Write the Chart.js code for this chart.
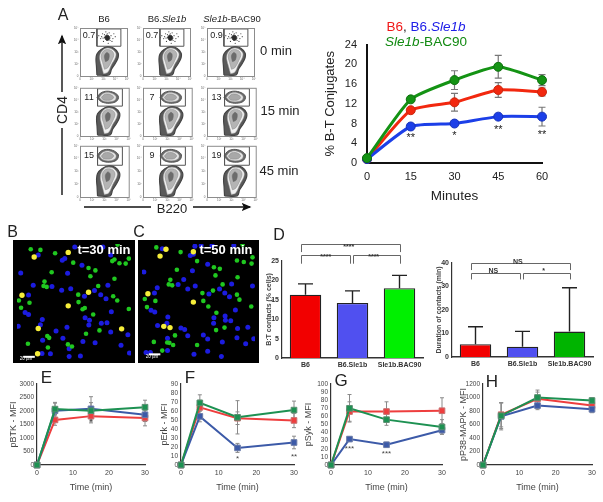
<!DOCTYPE html>
<html>
<head>
<meta charset="utf-8">
<script src="https://cdn.jsdelivr.net/npm/chart.js@4/dist/chart.umd.min.js"></script>
<style>
  html, body { margin:0; padding:0; background:#fff; overflow:hidden; }
  #page { position:relative; width:603px; height:502px; font-family:"Liberation Sans", Arial, sans-serif; }
  canvas { position:absolute; }
  .t { position:absolute; transform:translate(-50%,-50%); white-space:nowrap; color:#222; }
  svg { position:absolute; left:0; top:0; }
</style>
</head>
<body>
<div id="page">
  <svg width="603" height="502">
    <defs><marker id="arr" markerWidth="8" markerHeight="8" refX="6" refY="3" orient="auto"><path d="M0,0 L7,3 L0,6 L1.5,3 z" fill="#111"/></marker></defs>
    <line x1="62" y1="195" x2="62" y2="128" stroke="#111" stroke-width="1.4"/>
    <line x1="62" y1="92" x2="62" y2="36" stroke="#111" stroke-width="1.4" marker-end="url(#arr)"/>
    <line x1="84" y1="207" x2="151" y2="207" stroke="#111" stroke-width="1.4"/>
    <line x1="193" y1="207" x2="250" y2="207" stroke="#111" stroke-width="1.4" marker-end="url(#arr)"/>
  </svg>
</div>
<script>
/* ---------- data ---------- */
const conjTimes = [0, 15, 30, 45, 60];
const conjRed = [0.8, 10.7, 12.3, 14.8, 14.4];
const conjBlue = [0.8, 7.4, 8, 9.4, 9.4];
const conjGreen = [1, 12.9, 16.8, 19.5, 16.8];
const conjRedErr = [0, 0.4, 1.8, 1.5, 0.8];
const conjBlueErr = [0, 0.3, 0.3, 0.4, 1.9];
const conjGreenErr = [0, 0.4, 1.9, 2.3, 1.1];
const conjStars = [[15, 5, "**"], [30, 5.4, "*"], [45, 6.6, "**"], [60, 5.6, "**"]];

const barLabels = ["B6", "B6.Sle1b", "Sle1b.BAC90"];
const contactValues = [16.3, 14.2, 18];
const contactErr = [2.8, 3.1, 3.3];
const durationValues = [5.4, 4.4, 10.8];
const durationErr = [7.5, 6.5, 18.7];
const contactBrackets = [[-0.1, 2, 27.3, 29.5], [-0.1, 0.95, 24.3, 26.5], [1.0, 2, 24.3, 26.5]];
const contactStars = [[0.92, 28.7, "****"], [0.43, 25.9, "****"], [1.45, 26, "****"]];
const durationBrackets = [[-0.1, 2, 37, 39.8], [-0.1, 0.95, 33, 35.8], [1.0, 2, 33, 35.8]];
const durationStars = [[0.9, 40.6, "NS"], [0.38, 36.5, "NS"], [1.45, 36.6, "*"]];

const timeTicks = [0, 5, 15, 30];
const btkRed = [0, 1670, 1810, 1740], btkBlue = [0, 2010, 2080, 1860], btkGreen = [0, 2070, 2010, 2140];
const btkRedErr = [0, 200, 250, 290], btkBlueErr = [0, 280, 450, 250], btkGreenErr = [0, 250, 300, 260];
const btkStars = [[15, 1590, "*"]];
const erkRed = [0, 64, 52, 49.5], erkBlue = [0, 54, 19, 25], erkGreen = [0, 69, 53, 61];
const erkRedErr = [0, 8, 7, 8], erkBlueErr = [0, 6, 5, 7], erkGreenErr = [0, 9, 18.5, 10];
const erkStars = [[15, 7, "*"], [30, 9, "**"]];
const sykRed = [0, 66, 66, 67], sykBlue = [0, 32, 25, 43], sykGreen = [0, 70, 56, 47];
const sykRedErr = [0, 12, 12, 16], sykBlueErr = [0, 3, 3, 5], sykGreenErr = [0, 17, 7, 9];
const sykStars = [[5, 20, "***"], [15, 14, "***"]];
const p38Red = [0, 745, 980, 880], p38Blue = [0, 720, 880, 825], p38Green = [0, 730, 1000, 955];
const p38RedErr = [0, 180, 100, 60], p38BlueErr = [0, 200, 60, 50], p38GreenErr = [0, 190, 110, 40];

// flow plots, both axes 0-100
const flowPercents = [["0.7", "0.7", "0.9"], ["11", "7", "13"], ["15", "9", "19"]];
const flowTickLabels = ["0", "10²", "10³", "10⁴", "10⁵"];
const gateBox = [[36,62],[87,62],[87,98],[36,98],[36,62]];
const lowerOuter = [[36,2],[35,20],[34,35],[36,46],[45,55],[58,61],[72,58],[81,48],[81,38],[75,26],[67,14],[62,2],[36,2]];
const lowerWhite = [[50,5],[46,20],[42,36],[44,48],[53,57],[66,57],[76,48],[75,38],[67,24],[59,8],[50,5]];
const lowerMid = [[52,14],[48,28],[45,40],[48,50],[56,55],[67,53],[72,45],[68,33],[59,17],[52,14]];
const lowerCore = [[54,30],[52,42],[57,49],[62,45],[60,33],[54,30]];
const upperOuter = [[35,80],[42,89],[55,93],[70,90],[79,82],[75,72],[60,68],[44,71],[35,80]];
const upperWhite = [[40,80],[46,87],[56,90],[68,87],[74,81],[71,74],[59,71],[47,73],[40,80]];
const upperMid = [[44,80],[50,86],[58,87],[66,84],[69,80],[64,75],[56,74],[48,75],[44,80]];
const restCore = [[52,80],[56,85],[62,83],[63,77],[57,74],[52,80]];
const restDots = [[40,84],[44,78],[48,88],[50,72],[55,92],[62,90],[66,84],[70,78],[68,72],[46,82],[60,68],[75,82],[37,80],[52,86],[64,74],[58,88],[49,79],[72,88]];

// microscopy spots
const spots30Green = [[84,152],[115,154],[162,165],[220,195],[151,226],[269,212],[291,220],[275,239],[352,247],[128,256],[125,270],[135,273],[300,270],[236,298],[348,303],[361,317],[46,317],[80,324],[53,340],[237,322],[250,345],[257,341],[398,344],[284,362],[304,413],[137,431],[143,437],[75,456],[139,468],[203,458],[216,465],[261,424],[345,190],[352,185],[368,197],[388,198],[398,182],[362,137]];
const spots30Blue = [[108,170],[185,187],[193,182],[52,228],[202,229],[248,203],[92,268],[152,272],[183,284],[212,279],[331,268],[288,285],[256,303],[308,298],[77,299],[325,311],[66,355],[77,362],[342,353],[121,378],[258,372],[272,380],[310,390],[328,388],[270,396],[115,395],[44,400],[165,415],[200,403],[340,418],[395,427],[187,438],[122,445],[251,449],[290,453],[373,461],[400,486],[120,487],[207,472],[207,497],[243,495],[147,488],[340,170],[315,145],[225,145]];
const spots30Yellow = [[204,162],[95,177],[56,300],[269,290],[204,334],[108,407],[375,408],[106,488]];
const spots50Green = [[461,146],[539,161],[592,190],[527,218],[646,210],[665,215],[651,236],[722,242],[506,250],[501,265],[512,268],[674,265],[609,293],[720,298],[728,314],[643,285],[424,312],[458,318],[431,338],[612,318],[628,336],[766,336],[654,356],[680,404],[521,429],[496,452],[503,453],[453,450],[515,460],[592,460],[653,412],[720,188],[742,193],[767,198],[770,178],[738,137],[480,478]];
const spots50Blue = [[480,150],[570,172],[580,168],[421,225],[549,249],[577,221],[626,200],[464,276],[531,265],[562,280],[586,270],[703,264],[664,280],[630,296],[681,293],[696,305],[455,293],[444,348],[456,354],[715,347],[498,370],[646,372],[682,367],[683,380],[700,382],[645,390],[495,390],[465,397],[540,405],[552,410],[722,407],[755,403],[562,430],[626,441],[497,438],[612,428],[673,450],[720,437],[748,456],[428,484],[442,484],[497,478],[626,480],[582,490],[670,497],[774,440],[585,142],[605,140],[640,140],[710,140],[770,270]];
const spots50Yellow = [[492,152],[473,174],[580,160],[434,295],[580,322],[485,400],[505,404]];
const scaleBar30 = [[60,498],[97,498]];
const scaleBar50 = [[437,490],[474,490]];

/* ---------- helpers ---------- */
const page = document.getElementById("page");
const fontName = '"Liberation Sans", Arial, sans-serif';
const pairs = (xs, ys) => xs.map((x, i) => ({x: x, y: ys[i]}));
const xy = list => list.map(p => ({x: p[0], y: p[1]}));

function label(html, x, y, style) {
  const d = document.createElement("div");
  d.className = "t";
  d.innerHTML = html;
  d.style.cssText = "left:" + x + "px;top:" + y + "px;" + (style || "");
  page.appendChild(d);
  return d;
}

// canvas placed so that the plot area lands on rect [left, top, right, bottom]
function placed(rect, m) {
  const c = document.createElement("canvas");
  c.width = rect[2] - rect[0] + m.l + m.r;
  c.height = rect[3] - rect[1] + m.t + m.b;
  c.style.left = (rect[0] - m.l) + "px";
  c.style.top = (rect[1] - m.t) + "px";
  page.appendChild(c);
  return c;
}

const errorBars = {
  id: "errorBars",
  beforeDatasetsDraw(chart) {
    const ctx = chart.ctx;
    chart.data.datasets.forEach((ds, i) => {
      if (!ds.err) return;
      const meta = chart.getDatasetMeta(i);
      const sy = chart.scales.y;
      ctx.save();
      ctx.strokeStyle = ds.errColor || "#777";
      ctx.lineWidth = ds.errWidth || 1;
      meta.data.forEach((el, k) => {
        if (!ds.err[k]) return;
        const raw = ds.data[k];
        const val = typeof raw === "number" ? raw : raw.y;
        const hi = sy.getPixelForValue(val + ds.err[k]);
        const lo = ds.errUpOnly ? sy.getPixelForValue(val) : sy.getPixelForValue(val - ds.err[k]);
        const cap = ds.errCap || 2;
        ctx.beginPath();
        ctx.moveTo(el.x, lo); ctx.lineTo(el.x, hi);
        ctx.moveTo(el.x - cap, hi); ctx.lineTo(el.x + cap, hi);
        if (!ds.errUpOnly) { ctx.moveTo(el.x - cap, lo); ctx.lineTo(el.x + cap, lo); }
        ctx.stroke();
      });
      ctx.restore();
    });
  }
};

// stars / NS text and significance brackets, placed through the scales
function notes(stars, brackets, font, color) {
  return {
    id: "notes",
    afterDatasetsDraw(chart) {
      const ctx = chart.ctx, sx = chart.scales.x, sy = chart.scales.y;
      ctx.save();
      ctx.fillStyle = color; ctx.strokeStyle = "#666"; ctx.lineWidth = 1;
      ctx.font = font; ctx.textAlign = "center"; ctx.textBaseline = "middle";
      (brackets || []).forEach(b => {
        const x1 = Math.round(sx.getPixelForValue(b[0])) + 0.5, x2 = Math.round(sx.getPixelForValue(b[1])) + 0.5;
        const lo = sy.getPixelForValue(b[2]), hi = Math.round(sy.getPixelForValue(b[3])) + 0.5;
        ctx.beginPath();
        ctx.moveTo(x1, lo); ctx.lineTo(x1, hi); ctx.lineTo(x2, hi); ctx.lineTo(x2, lo);
        ctx.stroke();
      });
      (stars || []).forEach(s => ctx.fillText(s[2], sx.getPixelForValue(s[0]), sy.getPixelForValue(s[1])));
      ctx.restore();
    }
  };
}

const fixedW = w => s => { s.width = w; };
const fixedH = h => s => { s.height = h; };
const base = { responsive:false, animation:false, plugins:{ legend:{display:false}, tooltip:{enabled:false} }, events:[] };

/* ---------- A: conjugates ---------- */
function conjSet(vals, errs, col, edge, order) {
  return { data:pairs(conjTimes, vals), err:errs, errColor:"#777", errWidth:1.2, errCap:3.5, order:order,
    borderColor:col, backgroundColor:col, pointBorderColor:edge, pointBorderWidth:1,
    borderWidth:3, pointRadius:4.5, tension:0.18, showLine:true, clip:false };
}
{
  const m = {l:44, r:14, t:6, b:41};
  new Chart(placed([366.7, 37.7, 541.7, 163.3], m), {
    type:"scatter",
    data:{ datasets:[
      conjSet(conjGreen, conjGreenErr, "#149314", "#0e6f0e", 1),
      conjSet(conjBlue, conjBlueErr, "#1c3fe8", "#1530b8", 2),
      conjSet(conjRed, conjRedErr, "#f2280f", "#c9280f", 3)
    ]},
    options:{ ...base, layout:{padding:{top:m.t, right:m.r}},
      scales:{
        x:{ type:"linear", min:0, max:60, afterFit:fixedH(m.b), grid:{display:false, tickColor:"#111", tickLength:4, tickWidth:1.5},
            border:{color:"#111", width:2}, afterBuildTicks:s => { s.ticks = conjTimes.map(v => ({value:v})); },
            ticks:{color:"#222", font:{family:fontName, size:11}, padding:3, maxRotation:0},
            title:{display:true, text:"Minutes", color:"#222", font:{family:fontName, size:13.5}, padding:0} },
        y:{ min:0, max:24, afterFit:fixedW(m.l), grid:{display:false, tickColor:"#111", tickLength:4, tickWidth:1.5},
            border:{color:"#111", width:2},
            ticks:{stepSize:4, color:"#222", font:{family:fontName, size:11}, padding:6},
            title:{display:true, text:"% B-T Conjugates", color:"#222", font:{family:fontName, size:13}, padding:0} }
      }
    },
    plugins:[errorBars, notes(conjStars, null, "11px " + fontName, "#222")]
  });
}
label('<span style="color:#f01818">B6</span>, <span style="color:#2020e8">B6.<i>Sle1b</i></span>', 426, 25.5, "font-size:13.5px;");
label('<i>Sle1b</i>-BAC90', 426, 41, "font-size:13.5px;color:#128a12;");

/* ---------- A: flow plots ---------- */
const flowCols = [[79.5, 129.5], [142.5, 192.5], [207, 257]];
const flowRows = [[25, 76.5], [87, 136], [144.5, 197]];
const boxFrame = {
  id:"boxFrame",
  afterDatasetsDraw(chart) {
    const a = chart.chartArea, ctx = chart.ctx;
    ctx.save(); ctx.strokeStyle = "#8c8c8c"; ctx.lineWidth = 1;
    ctx.strokeRect(a.left + 0.5, a.top + 0.5, a.right - a.left, a.bottom - a.top);
    ctx.restore();
  }
};
function blob(list, fill, stroke, w) {
  return { data:xy(list), showLine:true, fill:"shape", backgroundColor:fill, borderColor:stroke, borderWidth:w, pointRadius:0, tension:0.35 };
}
flowRows.forEach((ry, r) => flowCols.forEach((cx, c) => {
  const m = {l:8, r:1, t:1, b:6};
  const upper = r === 0
    ? [ blob(restCore, "#2b2b2b", "#2b2b2b", 1),
        { data:xy(restDots), pointRadius:0.6, backgroundColor:"#444", borderWidth:0 } ]
    : [ blob(upperMid, "#a8a8a8", "#888", 0.6), blob(upperWhite, "#e4e4e4", "#aaa", 0.5), blob(upperOuter, "#6a6a6a", "#555", 1) ];
  new Chart(placed([cx[0], ry[0], cx[1], ry[1]], m), {
    type:"scatter",
    data:{ datasets:[
      { data:xy(gateBox), showLine:true, borderColor:"#555", borderWidth:1, pointRadius:0 },
      ...upper,
      blob(lowerCore, "#6c6c6c", "#666", 0.5), blob(lowerMid, "#b4b4b4", "#888", 0.5),
      blob(lowerWhite, "#f2f2f2", "#aaa", 0.5), blob(lowerOuter, "#5a5a5a", "#444", 1.2)
    ]},
    options:{ ...base, layout:{padding:{top:m.t, right:m.r}},
      scales:{
        x:{ type:"linear", min:0, max:100, afterFit:fixedH(m.b), grid:{display:false, tickColor:"#777", tickLength:1.5}, border:{display:false},
            ticks:{stepSize:25, padding:0, maxRotation:0, font:{size:3}, color:"#666", callback:(v, i) => flowTickLabels[i]} },
        y:{ min:0, max:100, afterFit:fixedW(m.l), grid:{display:false, tickColor:"#777", tickLength:1.5}, border:{display:false},
            ticks:{stepSize:25, padding:0, font:{size:3}, color:"#666", callback:(v, i) => flowTickLabels[i]} }
      }
    },
    plugins:[boxFrame]
  });
  label(flowPercents[r][c], cx[0] + 9.5, ry[0] + 10, "font-size:9px;");
}));
label("A", 63, 15, "font-size:16px;");
label("B6", 104, 18, "font-size:9.5px;");
label("B6.<i>Sle1b</i>", 167, 18, "font-size:9.5px;");
label("<i>Sle1b</i>-BAC90", 232, 18, "font-size:9.5px;");
label("0 min", 276, 50, "font-size:13px;");
label("15 min", 280, 110, "font-size:13px;");
label("45 min", 279, 170, "font-size:13px;");
label("CD4", 62, 110, "font-size:14px;transform:translate(-50%,-50%) rotate(-90deg);");
label("B220", 172, 207.5, "font-size:13px;");

/* ---------- B, C: microscopy ---------- */
const blackBack = {
  id:"blackBack",
  beforeDraw(chart) { chart.ctx.fillStyle = "#000"; chart.ctx.fillRect(0, 0, chart.width, chart.height); }
};
function spotPanel(rect, xMin, xMax, green, blue, yellow, bar) {
  const spot = (list, col, r) => ({ data:xy(list), backgroundColor:col, borderWidth:0, pointRadius:r });
  new Chart(placed(rect, {l:0, r:0, t:0, b:0}), {
    type:"scatter",
    data:{ datasets:[
      { data:xy(bar), showLine:true, borderColor:"#fff", borderWidth:2, pointRadius:0 },
      spot(yellow, "#f6ee3a", 2.7), spot(green, "#20c820", 2.3), spot(blue, "#1c1ce0", 2.5)
    ]},
    options:{ ...base, scales:{
      x:{ type:"linear", min:xMin, max:xMax, display:false },
      y:{ min:135, max:505, reverse:true, display:false }
    }},
    plugins:[blackBack]
  });
}
spotPanel([13, 240, 135, 363], 40, 405, spots30Green, spots30Blue, spots30Yellow, scaleBar30);
spotPanel([138, 240, 259, 363], 415, 778, spots50Green, spots50Blue, spots50Yellow, scaleBar50);
label("t=30 min", 104, 249, "font-size:13px;font-weight:bold;color:#fff;");
label("t=50 min", 226, 249, "font-size:13px;font-weight:bold;color:#fff;");
label("20 µm", 26, 358, "font-size:4.5px;color:#fff;");
label("20 µm", 152, 356, "font-size:4.5px;color:#fff;");
label("B", 12.5, 232, "font-size:16px;");
label("C", 139, 232, "font-size:16px;");
label("D", 279, 235, "font-size:16px;");

/* ---------- D: bars ---------- */
function barPanel(rect, vals, errs, cols, yMax, yStep, title, stars, brackets) {
  const m = {l:17, r:8, t:22, b:12};
  new Chart(placed(rect, m), {
    type:"bar",
    data:{ labels:barLabels, datasets:[{ data:vals, err:errs, errUpOnly:true, errColor:"#222", errWidth:1.4, errCap:7.5,
      backgroundColor:cols, borderColor:"#222", borderWidth:1.3, barPercentage:0.67, categoryPercentage:1 }]},
    options:{ ...base, layout:{padding:{top:m.t, right:m.r}},
      scales:{
        x:{ afterFit:fixedH(m.b), grid:{display:false, drawTicks:false}, border:{color:"#333", width:1.5},
            ticks:{color:"#333", padding:3, maxRotation:0, autoSkip:false, font:{family:fontName, size:7, weight:"bold"}} },
        y:{ min:0, max:yMax, afterFit:fixedW(m.l), grid:{display:false, tickColor:"#333", tickLength:2}, border:{color:"#333", width:1.2},
            ticks:{stepSize:yStep, color:"#333", padding:1, font:{family:fontName, size:7, weight:"bold"}},
            title:{display:true, text:title, color:"#444", padding:0, font:{family:fontName, size:7, weight:"bold"}} }
      }
    },
    plugins:[errorBars, notes(stars, brackets, "bold 7px " + fontName, "#333")]
  });
}
barPanel([282, 260.7, 423, 357.7], contactValues, contactErr, ["#f20000", "#5050f0", "#00f000"], 25, 5, "B:T contacts (% cells)", contactStars, contactBrackets);
barPanel([451.5, 262.7, 592.5, 356.7], durationValues, durationErr, ["#f20000", "#5050f0", "#00b400"], 40, 10, "Duration of contacts (min)", durationStars, durationBrackets);

/* ---------- E-H: time courses ---------- */
function timeSet(vals, errs, col, edge) {
  return { data:pairs(timeTicks, vals), err:errs, errColor:"#8a8a8a", errWidth:1, errCap:2, showLine:true, clip:false,
    borderColor:col, backgroundColor:col, borderWidth:2, pointStyle:"rect", pointRadius:4,
    pointBorderColor:edge, pointBorderWidth:1 };
}
function timePanel(rect, yMax, yStep, title, red, blue, green, redErr, blueErr, greenErr, stars, leftM) {
  const m = {l:leftM, r:6, t:6, b:28};
  new Chart(placed(rect, m), {
    type:"scatter",
    data:{ datasets:[
      timeSet(green, greenErr, "#1d9152", "#5a8f70"),
      timeSet(blue, blueErr, "#3c5aa8", "#6c7ca8"),
      timeSet(red, redErr, "#ee3e3e", "#c87070")
    ]},
    options:{ ...base, layout:{padding:{top:m.t, right:m.r}},
      scales:{
        x:{ type:"linear", min:0, max:30, afterFit:fixedH(m.b), grid:{display:false, tickColor:"#333", tickLength:2},
            border:{color:"#333", width:1.2},
            ticks:{stepSize:10, color:"#444", padding:2, maxRotation:0, font:{family:fontName, size:7}},
            title:{display:true, text:"Time (min)", color:"#444", padding:0, font:{family:fontName, size:9}} },
        y:{ min:0, max:yMax, afterFit:fixedW(m.l), grid:{display:false, tickColor:"#333", tickLength:2},
            border:{color:"#333", width:1.2},
            ticks:{stepSize:yStep, autoSkip:false, color:"#444", padding:1, font:{family:fontName, size:6.5}, callback:v => String(v)},
            title:{display:true, text:title, color:"#444", padding:0, font:{family:fontName, size:9}} }
      }
    },
    plugins:[errorBars, notes(stars, null, "8px " + fontName, "#444")]
  });
}
timePanel([37.3, 384.3, 145.3, 465.7], 3000, 500, "pBTK - MFI", btkRed, btkBlue, btkGreen, btkRedErr, btkBlueErr, btkGreenErr, btkStars, 29);
timePanel([181, 384.3, 294.7, 465.7], 90, 10, "pErk - MFI", erkRed, erkBlue, erkGreen, erkRedErr, erkBlueErr, erkGreenErr, erkStars, 22);
timePanel([331.3, 384.3, 442.7, 465.7], 100, 10, "pSyk - MFI", sykRed, sykBlue, sykGreen, sykRedErr, sykBlueErr, sykGreenErr, sykStars, 28);
timePanel([482.7, 384.3, 591.7, 465.7], 1200, 200, "pP38-MAPK - MFI", p38Red, p38Blue, p38Green, p38RedErr, p38BlueErr, p38GreenErr, [], 25);
label("E", 46.5, 378, "font-size:17px;");
label("F", 190, 378, "font-size:17px;");
label("G", 341, 381, "font-size:17px;");
label("H", 492, 382, "font-size:17px;");
</script>
</body>
</html>
